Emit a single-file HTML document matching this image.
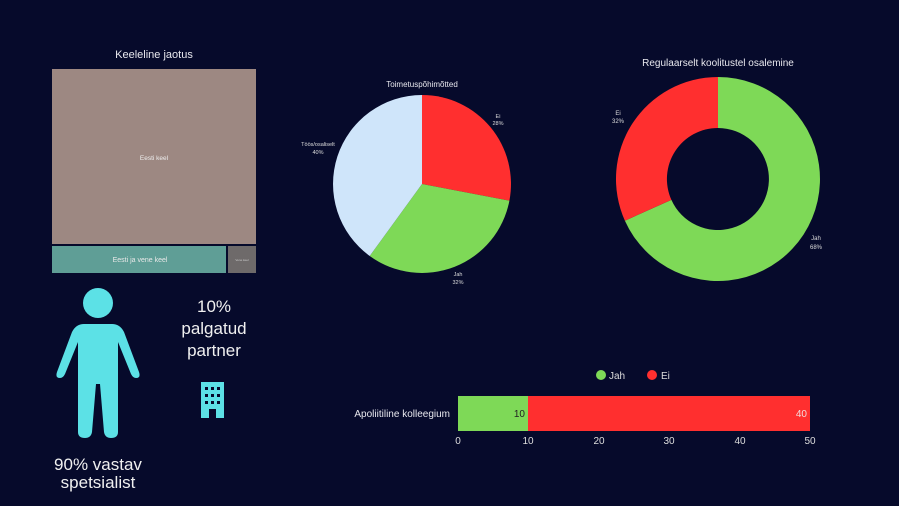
<!DOCTYPE html>
<html><head><meta charset="utf-8"><style>
body{margin:0;width:899px;height:506px;background:#060a2b;overflow:hidden;font-family:"Liberation Sans",sans-serif;}
svg{display:block}
</style></head><body>
<svg width="899" height="506" viewBox="0 0 899 506" font-family="Liberation Sans, sans-serif">
<rect width="899" height="506" fill="#060a2b"/>
<!-- treemap -->
<text x="154" y="58" fill="#e8e8ee" font-size="11" text-anchor="middle">Keeleline jaotus</text>
<rect x="52" y="69" width="204" height="175" fill="#9d8882"/>
<text x="154" y="160" fill="#eee" font-size="6.5" text-anchor="middle">Eesti keel</text>
<rect x="52" y="246" width="174" height="27" fill="#5f9e96"/>
<text x="140" y="262" fill="#e8e8e8" font-size="7" text-anchor="middle">Eesti ja vene keel</text>
<rect x="228" y="246" width="28" height="27" fill="#6e6a6a"/>
<text x="242" y="261" fill="#ccc" font-size="3" text-anchor="middle">Vene keel</text>
<!-- pie -->
<text x="422" y="87" fill="#e8e8ee" font-size="8" text-anchor="middle">Toimetuspõhimõtted</text>
<g transform="translate(422,184)">
<path d="M0,0 L0,-89 A89,89 0 0 1 87.4,16.7 Z" fill="#ff2f2f"/>
<path d="M0,0 L87.4,16.7 A89,89 0 0 1 -52.3,72 Z" fill="#7ed957"/>
<path d="M0,0 L-52.3,72 A89,89 0 0 1 0,-89 Z" fill="#cfe5fa"/>
</g>
<text x="498" y="118" fill="#ddd" font-size="5.5" text-anchor="middle">Ei</text>
<text x="498" y="125" fill="#ddd" font-size="5.5" text-anchor="middle">28%</text>
<text x="318" y="146" fill="#ddd" font-size="5.5" text-anchor="middle">Töös/osaliselt</text>
<text x="318" y="154" fill="#ddd" font-size="5.5" text-anchor="middle">40%</text>
<text x="458" y="276" fill="#ddd" font-size="5.5" text-anchor="middle">Jah</text>
<text x="458" y="284" fill="#ddd" font-size="5.5" text-anchor="middle">32%</text>
<!-- donut -->
<text x="718" y="66" fill="#e8e8ee" font-size="10" text-anchor="middle">Regulaarselt koolitustel osalemine</text>
<g transform="translate(718,179)">
<path d="M0,-102 A102,102 0 1 1 -93.1,41.7 L-46.6,20.9 A51,51 0 1 0 0,-51 Z" fill="#7ed957"/>
<path d="M-93.1,41.7 A102,102 0 0 1 0,-102 L0,-51 A51,51 0 0 0 -46.6,20.9 Z" fill="#ff2f2f"/>
</g>
<text x="618" y="115" fill="#ddd" font-size="6" text-anchor="middle">Ei</text>
<text x="618" y="123" fill="#ddd" font-size="6" text-anchor="middle">32%</text>
<text x="816" y="240" fill="#ddd" font-size="6" text-anchor="middle">Jah</text>
<text x="816" y="249" fill="#ddd" font-size="6" text-anchor="middle">68%</text>
<!-- person -->
<g fill="#5ce1e6">
<circle cx="98" cy="303" r="15"/>
<path d="M84,324 L112,324 Q120,324 124,332 L139,372 Q141,378 136,378 Q133,378 131,374 L118,342 L118,432 Q118,438 111,438 Q105,438 104,432 L100,384 L96,384 L92,432 Q91,438 85,438 Q78,438 78,432 L78,342 L65,374 Q63,378 60,378 Q55,378 57,372 L72,332 Q76,324 84,324 Z"/>
</g>
<!-- building -->
<rect x="201" y="382" width="23" height="36" fill="#5ce1e6"/>
<g fill="#060a2b">
<rect x="205" y="387" width="3" height="3"/><rect x="211" y="387" width="3" height="3"/><rect x="217" y="387" width="3" height="3"/>
<rect x="205" y="394" width="3" height="3"/><rect x="211" y="394" width="3" height="3"/><rect x="217" y="394" width="3" height="3"/>
<rect x="205" y="401" width="3" height="3"/><rect x="211" y="401" width="3" height="3"/><rect x="217" y="401" width="3" height="3"/>
<rect x="209" y="409" width="7" height="9"/>
</g>
<g fill="#f0f0f0" font-size="17" text-anchor="middle">
<text x="214" y="312">10%</text>
<text x="214" y="334">palgatud</text>
<text x="214" y="356">partner</text>
<text x="98" y="470">90% vastav</text>
<text x="98" y="488">spetsialist</text>
</g>
<!-- bar chart -->
<circle cx="601" cy="375" r="5" fill="#7ed957"/>
<text x="609" y="379" fill="#ddd" font-size="10">Jah</text>
<circle cx="652" cy="375" r="5" fill="#ff2f2f"/>
<text x="661" y="379" fill="#ddd" font-size="10">Ei</text>
<rect x="458" y="396" width="70" height="35" fill="#7ed957"/>
<rect x="528" y="396" width="282" height="35" fill="#ff2f2f"/>
<text x="525" y="417" fill="#222" font-size="10" text-anchor="end">10</text>
<text x="807" y="417" fill="#f3dada" font-size="10" text-anchor="end">40</text>
<text x="450" y="417" fill="#e8e8ee" font-size="10" text-anchor="end">Apoliitiline kolleegium</text>
<g fill="#ddd" font-size="10" text-anchor="middle">
<text x="458" y="444">0</text><text x="528" y="444">10</text><text x="599" y="444">20</text>
<text x="669" y="444">30</text><text x="740" y="444">40</text><text x="810" y="444">50</text>
</g>
</svg>
</body></html>
